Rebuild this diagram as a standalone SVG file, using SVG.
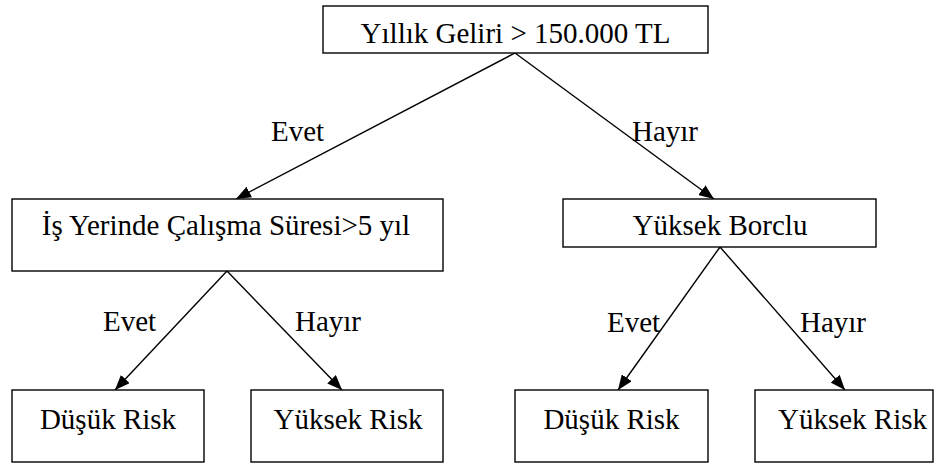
<svg xmlns="http://www.w3.org/2000/svg" width="936" height="465" viewBox="0 0 936 465">
<defs>
<style>
.box{fill:#fff;stroke:#000;stroke-width:1.4}
.t{font-family:'Liberation Serif','Times New Roman',serif;font-size:29px;fill:#000}
.c{stroke:#000;stroke-width:1.4;fill:none;marker-end:url(#ah)}
</style>
<marker id="ah" markerUnits="userSpaceOnUse" markerWidth="16" markerHeight="12" refX="15" refY="6" orient="auto">
<path d="M0,0 L15,6 L0,12 z" fill="#000"/>
</marker>
</defs>
<g id="connectors">
<line class="c" x1="515" y1="53" x2="236" y2="199"/>
<line class="c" x1="515" y1="53" x2="714" y2="199"/>
<line class="c" x1="227" y1="271" x2="115" y2="390"/>
<line class="c" x1="227" y1="271" x2="342" y2="390"/>
<line class="c" x1="720" y1="247" x2="618" y2="390"/>
<line class="c" x1="720" y1="247" x2="845" y2="390"/>
</g>
<g id="edge-labels">
<text class="t" x="271" y="141">Evet</text>
<text class="t" x="632" y="141">Hayır</text>
<text class="t" x="103" y="331">Evet</text>
<text class="t" x="295" y="331">Hayır</text>
<text class="t" x="607" y="332">Evet</text>
<text class="t" x="800" y="332">Hayır</text>
</g>
<g id="root">
<rect class="box" x="323" y="6" width="385" height="47"/>
<text class="t" x="515.5" y="43" text-anchor="middle">Yıllık Geliri &gt; 150.000 TL</text>
</g>
<g id="tenure">
<rect class="box" x="12" y="199" width="431" height="72"/>
<text class="t" x="226" y="235" text-anchor="middle">İş Yerinde Çalışma Süresi&gt;5 yıl</text>
</g>
<g id="debt">
<rect class="box" x="563" y="199" width="313" height="48"/>
<text class="t" x="720" y="235" text-anchor="middle">Yüksek Borclu</text>
</g>
<g id="low1">
<rect class="box" x="12" y="390" width="192" height="72"/>
<text class="t" x="108" y="429" text-anchor="middle">Düşük Risk</text>
</g>
<g id="high1">
<rect class="box" x="251" y="390" width="192" height="72"/>
<text class="t" x="348" y="429" text-anchor="middle">Yüksek Risk</text>
</g>
<g id="low2">
<rect class="box" x="515" y="390" width="193" height="72"/>
<text class="t" x="611.5" y="429" text-anchor="middle">Düşük Risk</text>
</g>
<g id="high2">
<rect class="box" x="755" y="390" width="178" height="72"/>
<text class="t" x="852.5" y="429" text-anchor="middle">Yüksek Risk</text>
</g>
</svg>
